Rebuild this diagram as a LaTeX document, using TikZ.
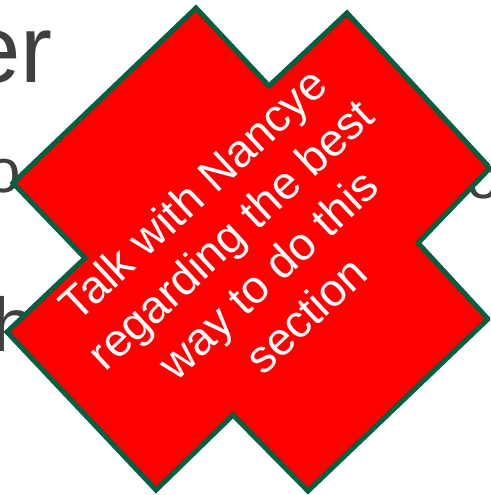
\documentclass[tikz,border=0pt]{standalone}
\usepackage{fontspec}
\setmainfont{Liberation Sans}
\definecolor{crossred}{RGB}{255,0,0}
\definecolor{crossgreen}{RGB}{0,96,64}
\definecolor{slidegray}{RGB}{64,64,64}
\tikzset{slidetext/.style={anchor=base west,inner sep=0pt,text=slidegray}}
\begin{document}
\begin{tikzpicture}[x=1pt,y=-1pt]
  \useasboundingbox (0,0) rectangle (490,495);
  \clip (0,0) rectangle (490,495);
  % slide text behind the note
  \node[slidetext,font=\fontsize{96}{96}\selectfont] (title) at (-33,82) {er};
  \node[slidetext,font=\fontsize{62}{62}\selectfont] (lineA) at (-14,192) {o};
  \node[slidetext,font=\fontsize{62}{62}\selectfont] (lineB) at (466,198) {o};
  \node[slidetext,font=\fontsize{76}{76}\selectfont] (lineC) at (-8,351) {h};
  % the cross
  \draw[line width=5pt,crossgreen,fill=crossred,line join=miter]
    (196,8) -- (269,86) -- (347,13) -- (490,168) -- (418,243) -- (488,319)
    -- (308,491) -- (233,415) -- (156,490) -- (7,332) -- (85,258) -- (13,183) -- cycle;
  \node[rotate=43,align=center,text=white,font=\fontsize{46}{55}\selectfont] (note) at (249,254)
    {Talk with Nancye\\regarding the best\\way to do this\\section};
\end{tikzpicture}
\end{document}
